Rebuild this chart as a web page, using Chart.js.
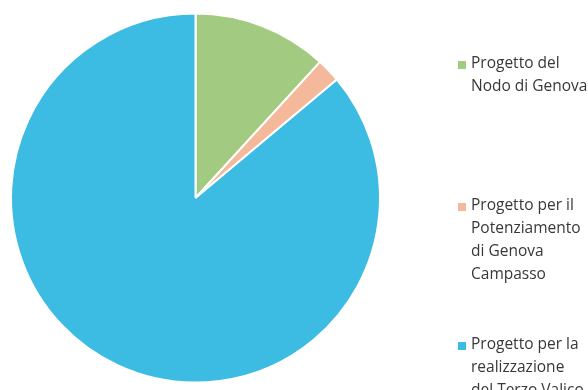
<!DOCTYPE html>
<html>
<head>
<meta charset="utf-8">
<script src="https://cdn.jsdelivr.net/npm/chart.js@4"></script>
<style>
  html, body { margin: 0; padding: 0; background: #fff; }
  #wrap { position: relative; width: 588px; height: 390px; overflow: hidden; }
  #pieChart { position: absolute; left: 0; top: 0; }
  .legend-item { position: absolute; left: 458px; font-family: "Open Sans", sans-serif; font-size: 15.5px; line-height: 23px; color: #383838; white-space: nowrap; }
  .legend-item .box { position: absolute; left: 0; top: 10px; width: 8px; height: 8px; }
  .legend-item .txt { margin-left: 13px; }
</style>
</head>
<body>
<div id="wrap">
  <canvas id="pieChart" width="588" height="390"></canvas>
</div>
<script>
const categories = [
    ['Progetto del', 'Nodo di Genova'],
    ['Progetto per il', 'Potenziamento', 'di Genova', 'Campasso'],
    ['Progetto per la', 'realizzazione', 'del Terzo Valico']
];
const values = [11.8, 2.1, 86.1];
const colors = ['#A2CB81', '#F4B99B', '#3CBBE3'];
const legendTops = [51, 193, 332];

const ctx = document.getElementById('pieChart').getContext('2d');
const chart = new Chart(ctx, {
    type: 'pie',
    data: {
        labels: categories,
        datasets: [{
            data: values,
            backgroundColor: colors,
            borderColor: '#ffffff',
            borderWidth: 2
        }]
    },
    options: {
        responsive: false,
        animation: false,
        layout: {
            padding: { left: 10, top: 12, right: 207, bottom: 6 }
        },
        plugins: {
            legend: { display: false },
            tooltip: { enabled: false }
        }
    }
});

// Legende als HTML neben dem Diagramm
const wrap = document.getElementById('wrap');
Chart.overrides.pie.plugins.legend.labels.generateLabels(chart).forEach((item, i) => {
    const div = document.createElement('div');
    div.className = 'legend-item';
    div.style.top = legendTops[i] + 'px';
    const box = document.createElement('span');
    box.className = 'box';
    box.style.background = item.fillStyle;
    const txt = document.createElement('div');
    txt.className = 'txt';
    txt.innerHTML = categories[i].join('<br>');
    div.appendChild(box);
    div.appendChild(txt);
    wrap.appendChild(div);
});
</script>
</body>
</html>
